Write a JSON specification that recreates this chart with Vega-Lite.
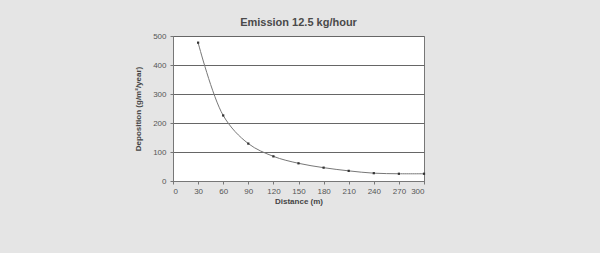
{
  "$schema": "https://vega.github.io/schema/vega-lite/v6.json",
  "autosize": "none",
  "padding": {"left": 173, "top": 36, "right": 176, "bottom": 72},
  "width": 251,
  "height": 145,
  "background": "#e5e5e5",
  "title": {"text": "Emission 12.5 kg/hour", "font": "Liberation Sans", "fontSize": 11, "fontWeight": "bold", "color": "#4a4a4a", "offset": 4, "anchor": "middle"},
  "config": {
    "view": {"fill": "#ffffff", "stroke": "#777777", "strokeWidth": 1},
    "axis": {"labelFont": "Liberation Sans", "titleFont": "Liberation Sans", "labelFontSize": 8, "titleFontSize": 8, "labelColor": "#555555", "titleColor": "#444444", "domainColor": "#777777", "tickColor": "#777777", "tickSize": 3}
  },
  "data": {"values": [
    {"distance": 30, "deposition": 477},
    {"distance": 60, "deposition": 226},
    {"distance": 90, "deposition": 129},
    {"distance": 120, "deposition": 85},
    {"distance": 150, "deposition": 61},
    {"distance": 180, "deposition": 46},
    {"distance": 210, "deposition": 35},
    {"distance": 240, "deposition": 27},
    {"distance": 270, "deposition": 25},
    {"distance": 300, "deposition": 25}
  ]},
  "encoding": {
    "x": {"field": "distance", "type": "quantitative", "scale": {"domain": [0, 300], "nice": false}, "axis": {"values": [0, 30, 60, 90, 120, 150, 180, 210, 240, 270, 300], "grid": false, "title": "Distance (m)", "titlePadding": 2, "labelPadding": 3}},
    "y": {"field": "deposition", "type": "quantitative", "scale": {"domain": [0, 500], "nice": false}, "axis": {"values": [0, 100, 200, 300, 400, 500], "grid": true, "gridColor": "#666666", "gridWidth": 1, "title": "Deposition (g/m²/year)", "titlePadding": 10, "labelPadding": 4}}
  },
  "layer": [
    {"mark": {"type": "line", "interpolate": "catmull-rom", "color": "#777777", "strokeWidth": 1}},
    {"mark": {"type": "square", "size": 5, "color": "#333333", "opacity": 1}}
  ]
}
